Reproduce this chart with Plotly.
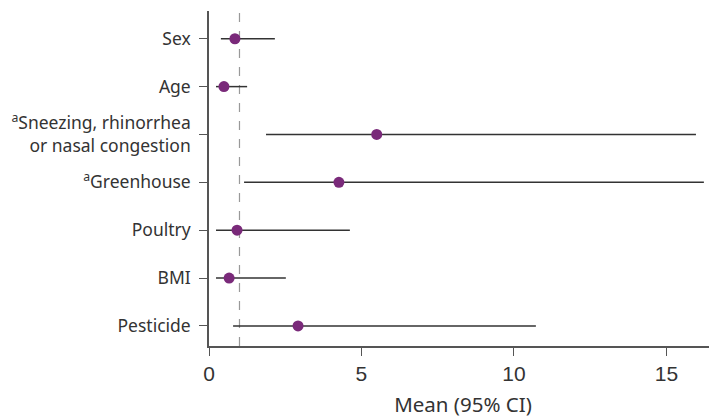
import plotly.graph_objects as go

labels = ["Sex", "Age", "<sup>a</sup>Sneezing, rhinorrhea<br>or nasal congestion",
          "<sup>a</sup>Greenhouse", "Poultry", "BMI", "Pesticide"]
means = [0.85, 0.49, 5.5, 4.26, 0.92, 0.66, 2.92]
lower = [0.39, 0.23, 1.87, 1.15, 0.23, 0.23, 0.79]
upper = [2.16, 1.25, 15.97, 16.23, 4.62, 2.52, 10.72]
x_ticks = [0, 5, 10, 15]

n = len(labels)
ypos = list(range(n - 1, -1, -1))

fig = go.Figure()
fig.add_trace(go.Scatter(
    x=means, y=ypos, mode="markers",
    marker=dict(color="#7a2a7a", size=11),
    error_x=dict(type="data", symmetric=False,
                 array=[u - m for u, m in zip(upper, means)],
                 arrayminus=[m - l for m, l in zip(means, lower)],
                 color="#333333", thickness=1.5, width=0),
    showlegend=False, hoverinfo="skip"))

fig.add_shape(type="line", x0=1, x1=1, y0=0, y1=1, xref="x", yref="paper",
              line=dict(color="#999999", width=1.2, dash="dash"), layer="below")

fig.update_layout(
    width=709, height=410,
    margin=dict(l=201, r=0, t=3, b=72, autoexpand=False),
    plot_bgcolor="white", paper_bgcolor="white",
    font=dict(family="Noto Sans", color="#333333", size=17),
    xaxis=dict(range=[0, 16.66], tickvals=x_ticks, showgrid=False, zeroline=False,
               showline=True, linecolor="#555555", linewidth=1.5,
               ticks="outside", ticklen=8, tickcolor="#555555", automargin=False,
               tickfont=dict(size=21, family="Liberation Sans", color="#333333"),
               title=dict(text="Mean (95% CI)", font=dict(size=20.5, color="#333333"), standoff=16)),
    yaxis=dict(range=[-0.42, 6.58], tickvals=ypos, ticktext=labels, showgrid=False,
               zeroline=False, showline=True, linecolor="#555555", linewidth=1.5,
               ticks="outside", ticklen=8, tickcolor="#555555", automargin=False,
               ticklabelstandoff=5,
               tickfont=dict(size=17.5, color="#333333")),
)

fig.write_html("out.html")
